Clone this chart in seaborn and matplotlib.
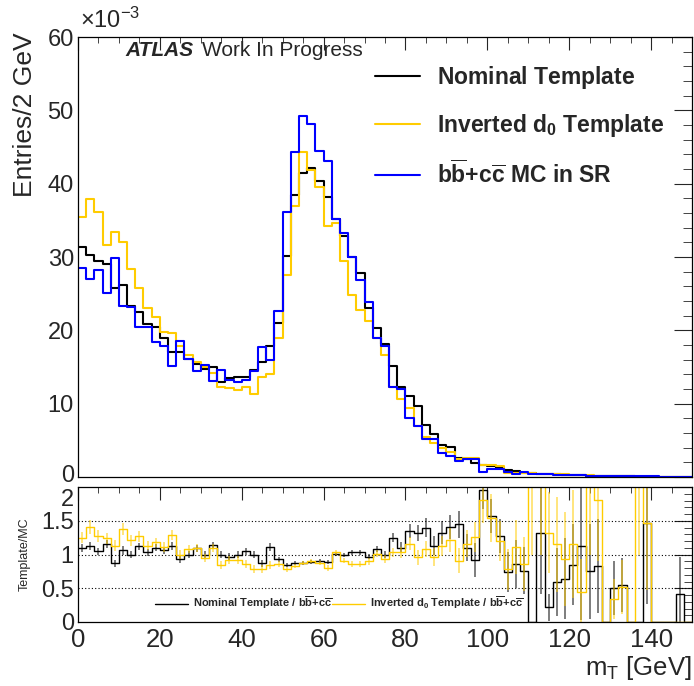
import numpy as np
import pandas as pd
import matplotlib
matplotlib.use("Agg")
import matplotlib.pyplot as plt
from matplotlib.lines import Line2D
from matplotlib.ticker import MultipleLocator, FixedLocator, FuncFormatter
from matplotlib.transforms import ScaledTranslation
import seaborn as sns

# ==============================================
# Data: 2 GeV bins from 0 to 150 GeV (entries in units of 1e-3)
# ==============================================
bin_edges = np.arange(0, 152, 2)
bin_centers = bin_edges[:-1] + 1

nominal = [31.3, 30.3, 29.4, 29.05, 25.8, 26.2, 23.3, 22.5, 20.8, 20.4,
           18.9, 17.0, 17.0, 16.1, 15.4, 14.7, 15.0, 12.9, 13.5, 13.6,
           13.6, 14.6, 15.7, 17.9, 21.0, 30.1, 38.5, 41.5, 42.2, 40.3,
           38.2, 35.2, 32.8, 30.0, 27.8, 23.0, 20.3, 18.2, 15.2, 12.3,
           11.1, 9.7, 7.1, 5.8, 4.4, 4.1, 2.6, 2.4, 1.9, 1.6,
           1.5, 1.2, 1.0, 0.8, 0.6, 0.5, 0.45, 0.4, 0.35, 0.3,
           0.3, 0.25, 0.2, 0.15, 0.12, 0.1, 0.1, 0.08, 0.06, 0.05,
           0.04, 0.04, 0.03, 0.03, 0.02]

inverted = [35.4, 37.9, 36.1, 31.6, 33.4, 32.1, 28.4, 25.8, 23.0, 21.8,
            19.8, 19.6, 17.8, 16.6, 15.7, 15.0, 14.2, 12.3, 12.1, 11.9,
            12.3, 11.3, 13.7, 14.0, 19.0, 27.5, 37.0, 44.3, 41.9, 39.6,
            34.2, 34.6, 29.5, 24.8, 22.8, 21.3, 19.0, 16.6, 12.3, 10.6,
            9.4, 7.0, 5.5, 4.7, 3.9, 3.4, 2.5, 2.6, 2.6, 1.6,
            1.7, 1.5, 0.6, 0.6, 0.6, 0.5, 0.45, 0.45, 0.4, 0.35,
            0.3, 0.25, 0.22, 0.2, 0.15, 0.12, 0.1, 0.08, 0.06, 0.05,
            0.04, 0.04, 0.03, 0.03, 0.02]

mc_sr = [28.5, 27.0, 28.2, 25.1, 29.8, 23.3, 23.2, 20.4, 20.5, 18.4,
         17.9, 15.2, 18.5, 16.1, 14.4, 15.3, 13.1, 14.6, 13.2, 13.0,
         13.2, 14.5, 17.7, 16.0, 22.6, 36.1, 44.3, 49.2, 48.1, 44.4,
         43.1, 35.2, 33.3, 30.0, 26.8, 23.9, 19.0, 17.9, 12.3, 12.0,
         8.1, 7.0, 5.2, 5.2, 3.3, 2.9, 2.2, 2.4, 2.4, 0.73,
         1.05, 1.05, 0.7, 0.45, 0.7, 0.35, 0.35, 0.35, 0.3, 0.3,
         0.25, 0.25, 0.2, 0.2, 0.15, 0.15, 0.12, 0.1, 0.1, 0.08,
         0.08, 0.05, 0.05, 0.03, 0.03]

# Ratio panel (values above 2 are off scale)
ratio_nominal = [1.10, 1.13, 1.05, 1.16, 0.87, 1.06, 1.00, 1.12, 1.03, 1.10,
                 1.06, 1.12, 0.93, 1.00, 1.09, 1.00, 1.14, 1.00, 0.97, 1.00,
                 1.05, 1.00, 0.87, 1.11, 0.93, 0.84, 0.87, 0.87, 0.89, 0.91,
                 0.89, 1.01, 0.99, 1.03, 1.03, 0.97, 1.08, 1.00, 1.25, 1.10,
                 1.35, 1.32, 1.40, 1.13, 1.32, 1.41, 1.45, 1.10, 0.92, 1.96,
                 1.57, 1.27, 0.74, 0.86, 0.76, 0.0, 1.32, 0.22, 0.59, 0.64,
                 0.85, 1.13, 0.75, 0.83, 0.0, 0.50, 0.55, 0.0, 0.0, 1.47,
                 0.0, 0.0, 0.0, 0.42, 0.0]
err_nominal = [0.06, 0.06, 0.05, 0.06, 0.05, 0.06, 0.05, 0.05, 0.05, 0.05,
               0.05, 0.06, 0.05, 0.05, 0.05, 0.05, 0.05, 0.05, 0.05, 0.05,
               0.05, 0.05, 0.05, 0.06, 0.04, 0.03, 0.03, 0.03, 0.03, 0.03,
               0.03, 0.03, 0.03, 0.04, 0.04, 0.04, 0.05, 0.05, 0.07, 0.08,
               0.10, 0.12, 0.14, 0.14, 0.17, 0.18, 0.20, 0.20, 0.25, 0.28,
               0.25, 0.25, 0.30, 0.35, 0.35, 0.0, 0.9, 0.2, 0.5, 0.6,
               0.6, 1.1, 0.7, 0.7, 0.0, 0.4, 0.4, 0.0, 0.0, 1.2,
               0.0, 0.0, 0.0, 0.55, 0.0]

ratio_inverted = [1.25, 1.41, 1.27, 1.24, 1.13, 1.38, 1.21, 1.27, 1.13, 1.18,
                  1.11, 1.29, 1.00, 1.08, 1.09, 0.95, 1.09, 0.84, 0.92, 0.92,
                  0.86, 0.78, 0.78, 0.84, 0.86, 0.78, 0.83, 0.88, 0.90, 0.88,
                  0.80, 1.03, 0.91, 0.86, 0.86, 0.90, 1.01, 0.93, 1.03, 1.03,
                  1.16, 0.96, 1.08, 0.96, 1.13, 1.21, 0.91, 1.16, 1.26, 1.81,
                  1.54, 1.20, 0.78, 1.11, 0.86, 2.5, 2.5, 1.32, 1.15, 0.93,
                  1.16, 0.44, 2.5, 1.81, 0.0, 0.34, 0.52, 0.0, 2.5, 1.47,
                  0.0, 0.0, 0.0, 0.0, 0.0]
err_inverted = [0.08, 0.10, 0.09, 0.08, 0.08, 0.09, 0.08, 0.08, 0.07, 0.07,
                0.07, 0.08, 0.06, 0.06, 0.06, 0.06, 0.06, 0.06, 0.06, 0.06,
                0.06, 0.06, 0.06, 0.06, 0.05, 0.04, 0.03, 0.03, 0.03, 0.03,
                0.04, 0.04, 0.04, 0.04, 0.05, 0.05, 0.05, 0.06, 0.07, 0.08,
                0.10, 0.11, 0.12, 0.13, 0.15, 0.18, 0.18, 0.20, 0.22, 0.35,
                0.35, 0.30, 0.30, 0.40, 0.40, 1.5, 1.5, 0.6, 0.7, 0.7,
                0.8, 0.5, 1.5, 0.9, 0.0, 0.3, 0.4, 0.0, 1.5, 1.0,
                0.0, 0.0, 0.0, 0.0, 0.0]

series_labels = [r"$\mathbf{Nominal\ Template}$",
                 r"$\mathbf{Inverted\ d_0\ Template}$",
                 r"$\mathbf{b\overline{b}{+}c\overline{c}\ MC\ in\ SR}$"]
ratio_labels = [r"$\mathbf{Nominal\ Template\ /\ b\overline{b}{+}c\overline{c}}$",
                r"$\mathbf{Inverted\ d_0\ Template\ /\ b\overline{b}{+}c\overline{c}}$"]

BLACK = "black"
GOLD = "#FFCC00"
BLUE = "#0000FF"

# ==============================================
# Style
# ==============================================
sns.set_style("white")
plt.rcParams["font.family"] = ["Liberation Sans", "DejaVu Sans"]
plt.rcParams["mathtext.fontset"] = "custom"
plt.rcParams["mathtext.rm"] = "Liberation Sans"
plt.rcParams["mathtext.bf"] = "Liberation Sans:bold"
plt.rcParams["mathtext.it"] = "Liberation Sans:italic"
plt.rcParams["axes.edgecolor"] = "black"
plt.rcParams["axes.linewidth"] = 0.9

fig = plt.figure(figsize=(6.94, 6.86), dpi=100)
ax_top = fig.add_axes([78 / 694, 1 - 477 / 686, 614 / 694, 440 / 686])
ax_rat = fig.add_axes([78 / 694, 1 - 622 / 686, 614 / 694, 135 / 686])


def draw_hist(ax, values, color, lw):
    df = pd.DataFrame({"mT": bin_centers, "w": values})
    sns.histplot(data=df, x="mT", weights="w", binwidth=2, binrange=(0, 150),
                 element="step", fill=False, color=color, linewidth=lw, ax=ax)


# ==============================================
# Top panel: histograms
# ==============================================
for vals, col in [(nominal, BLACK), (inverted, GOLD), (mc_sr, BLUE)]:
    draw_hist(ax_top, vals, col, 1.5)

ax_top.set_xlim(0, 150)
ax_top.set_ylim(0, 60)
ax_top.set_xlabel("")
ax_top.set_ylabel("Entries/2 GeV", fontsize=19, loc="top")
ax_top.yaxis.set_label_coords(-0.066, 1.01)
ax_top.tick_params(axis="x", labelbottom=False)
ax_top.yaxis.set_major_locator(FixedLocator([0, 10, 20, 30, 40, 50, 60]))
ax_top.yaxis.set_minor_locator(MultipleLocator(2))
ax_top.xaxis.set_major_locator(MultipleLocator(20))
ax_top.xaxis.set_minor_locator(MultipleLocator(5))
ax_top.tick_params(axis="both", which="both", direction="in", top=True, right=True)
ax_top.tick_params(axis="y", which="major", length=13, labelsize=17, pad=3)
ax_top.tick_params(axis="y", which="minor", length=6.5)
ax_top.tick_params(axis="x", which="major", length=9)
ax_top.tick_params(axis="x", which="minor", length=4.5)
fig.text(80 / 694, 1 - 20 / 686, r"$\times$10$^{-3}$", fontsize=17, va="center", ha="left")

handles = [Line2D([], [], color=c, lw=1.5) for c in (BLACK, GOLD, BLUE)]
fig.legend(handles, series_labels, loc="upper left", bbox_to_anchor=(375 / 694, 1 - 64 / 686),
           frameon=False, prop={"size": 16.5, "weight": "bold"}, handlelength=1.97,
           handletextpad=0.74, labelspacing=0.93, borderpad=0, borderaxespad=0)

fig.text(125 / 694, 1 - 50 / 686, "ATLAS", fontsize=15, fontweight="bold",
         fontstyle="italic", va="center", ha="left")
fig.text(202 / 694, 1 - 50 / 686, "Work In Progress", fontsize=15, va="center", ha="left")

# ==============================================
# Ratio panel
# ==============================================
for yv in (0.5, 1.0, 1.5):
    ax_rat.axhline(yv, color="black", linestyle=(0, (1, 2)), linewidth=0.8)

for vals, errs, col in [(ratio_nominal, err_nominal, BLACK), (ratio_inverted, err_inverted, GOLD)]:
    draw_hist(ax_rat, vals, col, 1.0)
    ax_rat.errorbar(bin_centers, vals, yerr=errs, fmt="none", ecolor=col,
                    elinewidth=1.3, alpha=0.55)

ax_rat.set_xlim(0, 150)
ax_rat.set_ylim(0, 2.0)
ax_rat.set_ylabel("Template/MC", fontsize=9)
ax_rat.yaxis.set_label_coords(-0.077, 0.5)
ax_rat.set_xlabel(r"m$_\mathrm{T}$ [GeV]", fontsize=18.5, loc="right", labelpad=2)
ax_rat.yaxis.set_major_locator(FixedLocator([0, 0.5, 1, 1.5, 2]))
ax_rat.yaxis.set_minor_locator(MultipleLocator(0.1))
ax_rat.xaxis.set_major_locator(MultipleLocator(20))
ax_rat.xaxis.set_minor_locator(MultipleLocator(5))
ax_rat.yaxis.set_major_formatter(FuncFormatter(lambda v, p: f"{v:g}"))
ax_rat.tick_params(axis="both", which="both", direction="in", top=True, right=True)
ax_rat.tick_params(axis="y", which="major", length=13, labelsize=17, pad=3)
ax_rat.tick_params(axis="y", which="minor", length=6)
ax_rat.tick_params(axis="x", which="major", length=9, labelsize=18.5, pad=4)
ax_rat.tick_params(axis="x", which="minor", length=4.5)

# ROOT keeps the "0" of the top pad and the "2" of the ratio pad apart
lab_two = ax_rat.yaxis.get_major_ticks()[-1].label1
lab_two.set_verticalalignment("top")
lab_two.set_transform(lab_two.get_transform() + ScaledTranslation(0, -2 / 100, fig.dpi_scale_trans))
lab_zero = ax_top.yaxis.get_major_ticks()[0].label1
lab_zero.set_transform(lab_zero.get_transform() + ScaledTranslation(0, 3 / 100, fig.dpi_scale_trans))

rh = [Line2D([], [], color=c, lw=1.0) for c in (BLACK, GOLD)]
ax_rat.legend(rh, ratio_labels, loc="center left", bbox_to_anchor=(0.125, 0.14), ncol=2,
              frameon=False, prop={"size": 8, "weight": "bold"}, handlelength=3.0,
              handletextpad=0.4, columnspacing=0.0, borderpad=0, borderaxespad=0)

fig.savefig("out.png", dpi=100)
